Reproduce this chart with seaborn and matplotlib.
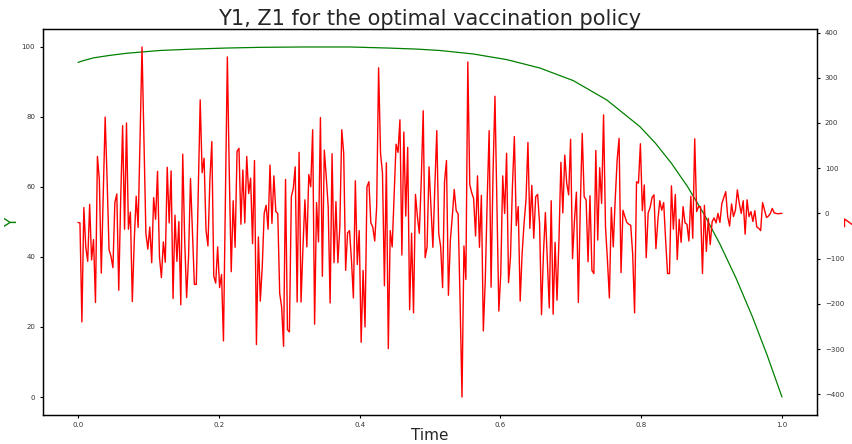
import numpy as np
import matplotlib
matplotlib.use("Agg")
import matplotlib.pyplot as plt
import seaborn as sns

# -----------------------------
# Data
# -----------------------------
# Y1 (green, left axis): sampled along the curve
y_time = [0.0, 0.0075, 0.022, 0.045, 0.069, 0.116, 0.164, 0.211, 0.259, 0.32,
          0.386, 0.44, 0.481, 0.514, 0.5615, 0.609, 0.656, 0.7035, 0.751,
          0.798, 0.82, 0.843, 0.866, 0.889, 0.912, 0.935, 0.958, 0.979, 1.0]
y_values = [95.5, 96.0, 96.8, 97.5, 98.1, 98.9, 99.3, 99.6, 99.8, 99.9,
            99.9, 99.6, 99.3, 98.9, 97.9, 96.3, 93.9, 90.3, 84.8,
            77.2, 72.5, 66.7, 60.0, 52.3, 43.6, 33.8, 22.9, 11.9, 0.0]

# Z1 (red, right axis), one value per time step
z_values = [
    # 0.00 - 0.16
    -20, -21, -240, 13, -74, -106, 20, -103, -58, -197, 126, 74, -132, 37, 213,
    74, -80, -95, -120, 24, 43, -170, 30, 194, -35, 200, -35, 3, -195, -59,
    38, -31, 163, 368, 163, -44, -79, -30, -109, 35, -13, 93, -96, -142, -63,
    -108, 102, -21, 94, -188, -4, -106, -18, -202, 131, -59, -186, -96, 77,
    # 0.16 - 0.33
    -41, -157, -157, 48, 251, 90, 122, -37, -72, 74, 159, -139, -154, -74, -164,
    -135, -282, 30, 346, 89, -129, 28, -75, 137, 144, -24, 96, -21, 126, 44,
    78, -67, 117, -290, -52, -194, -118, 0, 18, -35, 107, -22, 83, 4, 0,
    -177, -207, -294, 75, -257, -262, 37, 55, 103, -196, 135, -196, -74, 30,
    # 0.33 - 0.49
    -74, 86, 59, 185, -245, 24, -63, 212, -139, 140, 81, 15, -198, 132, -109,
    26, -109, -30, 185, 133, -126, -43, -38, -103, -187, 72, -113, -38, -285, -126,
    -251, 59, 70, -21, -30, -61, 15, 322, 133, 89, -160, 112, -299, -38, -74,
    37, 153, 135, 207, -92, 180, -6, 146, -213, -44, -220, 42, -7, -44, 74,
    # 0.49 - 0.66
    227, -98, -74, 103, 15, -75, 59, 183, -44, -74, -164, 70, 117, -181, -59,
    -7, 53, 6, -1, -192, -406, -72, -146, 335, 64, 46, 33, -50, 83, -75,
    40, -260, -148, 30, 183, -163, 89, 259, 15, -216, -133, 83, 0, 133, -153,
    -96, 59, 170, -27, 15, -194, -89, -22, 30, 157, -33, 62, -55, 37,
    # 0.66 - 0.82
    42, -22, -224, -89, 2, -103, -209, 28, -223, -64, -192, -59, 113, 1, 129,
    67, 41, 164, -100, -15, 47, -197, 15, 177, 37, 30, -107, 39, -126, -133,
    139, -59, 101, 22, 218, -30, -103, -187, 13, -74, 30, 118, 166, -131, 7,
    -7, -20, -24, -26, -89, -220, 70, 67, 154, 6, 63, -98, 1, 13, 35,
    # 0.82 - 1.00
    41, -78, -15, 28, 7, 24, -59, -133, -133, 61, -35, 42, -102, -13, -64,
    15, -21, -24, -61, 38, -55, 165, 4, 15, 15, -133, 18, -84, -11, -69,
    -18, -10, -21, 0, -20, 22, 35, 48, -7, -28, 21, -7, 7, 52, 22,
    0, 28, -46, 30, -7, 4, -18, 6, -30, -33, -38, 24, 7, -9, -6,
    0, 11, 1, 0, -1, 0, 0,
]
z_time = np.linspace(0, 1, len(z_values))

# -----------------------------
# Plot
# -----------------------------
sns.set_style("white")
plt.rcParams["font.family"] = ["DejaVu Sans"]

fig = plt.figure(figsize=(8.53, 4.44), dpi=100)
ax = fig.add_axes([0.0502, 0.0664, 0.9078, 0.8672])
ax2 = ax.twinx()

sns.lineplot(x=y_time, y=y_values, ax=ax, color="green", linewidth=0.9)
sns.lineplot(x=z_time, y=z_values, ax=ax2, color="red", linewidth=1.0)

ax.set_title("Y1, Z1 for the optimal vaccination policy", fontsize=15, pad=3)
ax.set_xlabel("Time", fontsize=11)
ax.xaxis.set_label_coords(0.5, -0.034)
ax.set_ylabel("Y", color="green", fontsize=11)
ax.yaxis.set_label_coords(-0.029, 0.5)
ax2.set_ylabel("Z", color="red", fontsize=11)
ax2.yaxis.set_label_coords(1.035, 0.5)

ax.set_xticks([0.0, 0.2, 0.4, 0.6, 0.8, 1.0])
ax.set_yticks([0, 20, 40, 60, 80, 100])
ax2.set_yticks([-400, -300, -200, -100, 0, 100, 200, 300, 400])

for a in (ax, ax2):
    a.tick_params(labelsize=5, length=2, width=0.8, colors="black",
                  labelcolor="#333333")
    for s in a.spines.values():
        s.set_color("black")
        s.set_linewidth(0.9)
ax.tick_params(axis="both", left=True, bottom=True)
ax2.tick_params(axis="y", right=True)

fig.savefig("out.png", dpi=100)
